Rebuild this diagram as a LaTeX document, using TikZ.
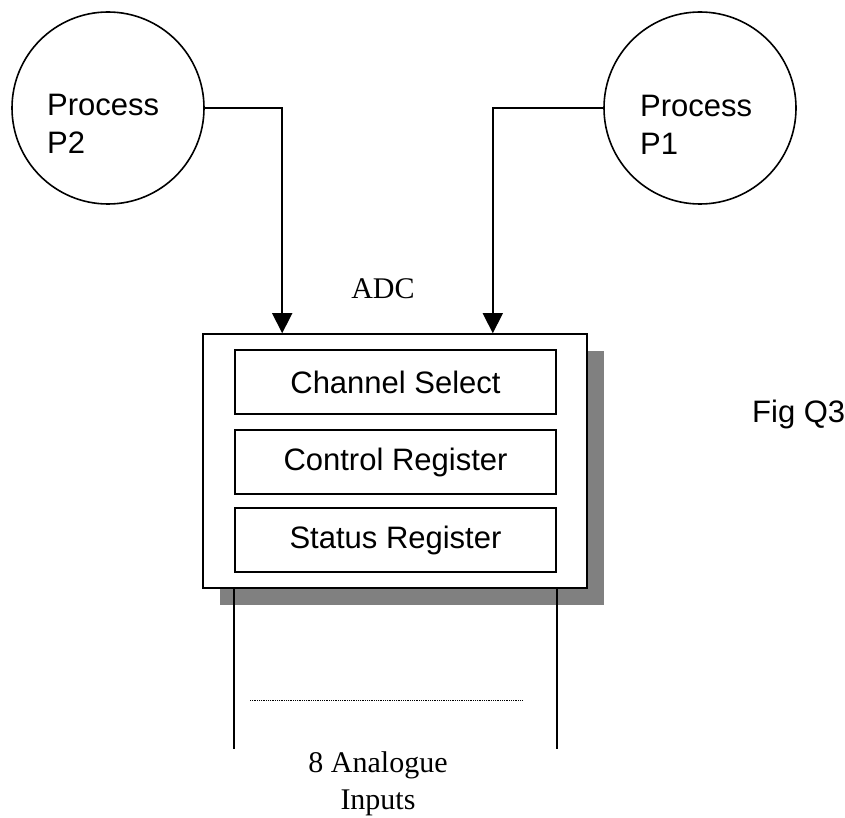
\documentclass[tikz,border=0pt]{standalone}
\usepackage{fontspec}
\setmainfont{Liberation Sans}
\newfontfamily\timesfont{Liberation Serif}
\usetikzlibrary{arrows.meta,positioning,shadows}
\definecolor{shadowgray}{gray}{0.5}

\begin{document}
\begin{tikzpicture}[x=1pt, y=-1pt,
  proc/.style={draw, circle, line width=1.6pt, minimum size=192pt, inner sep=0pt},
  proctext/.style={align=left, inner sep=0pt, font=\fontsize{31}{38}\selectfont},
  adcbox/.style={draw, line width=1.6pt, fill=white, minimum width=384pt, minimum height=254pt, drop shadow={shadow xshift=17pt, shadow yshift=-17pt, fill=shadowgray, opacity=1}},
  reg/.style={draw, line width=1.6pt, minimum width=321pt, minimum height=64pt, font=\fontsize{31}{38}\selectfont},
  caption/.style={align=center, inner sep=0pt, font=\timesfont\fontsize{30}{37}\selectfont},
  arr/.style={-{Triangle[width=20pt, length=20pt]}, line width=1.6pt},
  wire/.style={line width=1.6pt}
]

\useasboundingbox (0,0) rectangle (845,818);

\node[proc] (p2) at (108,108) {};
\node[proctext, anchor=north west] (p2text) at (47,94) {Process\\P2};
\node[proc] (p1) at (700,108) {};
\node[proctext, anchor=north west] (p1text) at (640,95) {Process\\P1};

\node[adcbox] (adc) at (395,461) {};
\node[reg] (chsel) at (395.5,382) {Channel Select};
\node[reg] (ctrl) at (395.5,462) {Control Register};
\node[reg] (stat) at (395.5,540) {Status Register};

\node[caption] (adclabel) at (383,289) {ADC};
\node[proctext, anchor=base west] (fig) at (752,422) {Fig Q3};

\draw[arr] (p2.east) -| ([xshift=80pt]adc.north west);
\draw[arr] (p1.west) -| ([xshift=-95pt]adc.north east);

% analogue inputs below the converter
\draw[wire] (stat.west |- adc.south) -- ++(0,160);
\draw[wire] (stat.east |- adc.south) -- ++(0,160);
\draw[densely dotted, line width=0.8pt] (250,700) -- (522,700);
\node[caption, anchor=north] (inputs) at (378,751) {8 Analogue\\Inputs};

\end{tikzpicture}
\end{document}
